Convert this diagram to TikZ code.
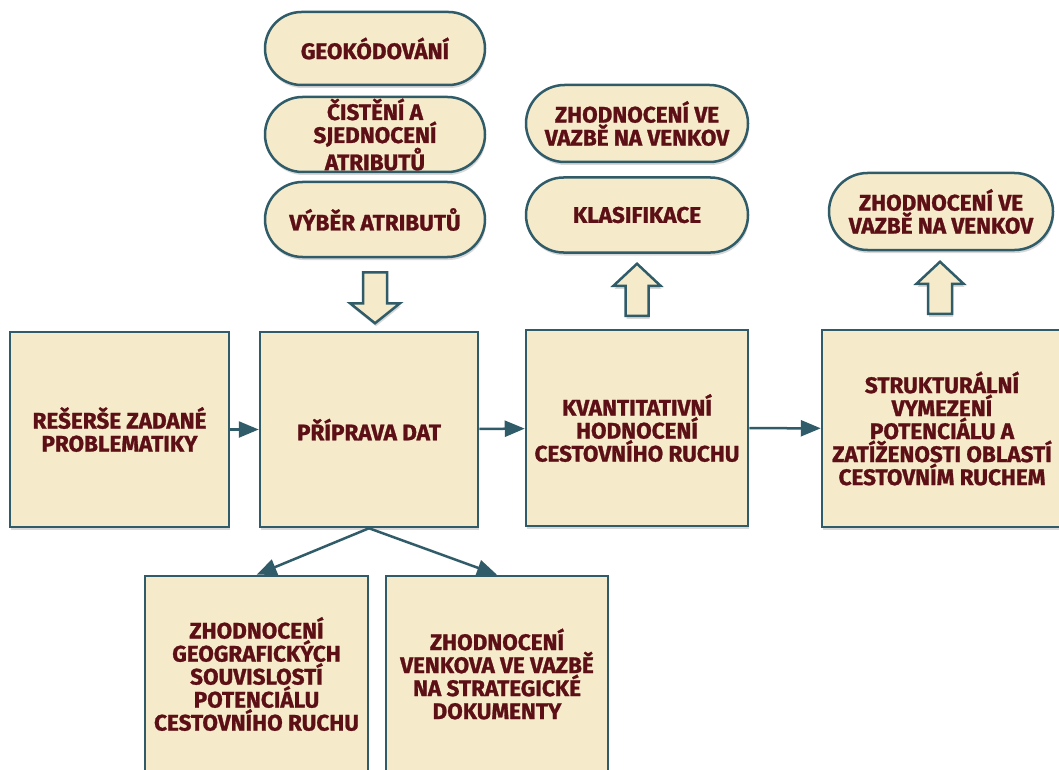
\documentclass[tikz,border=0pt]{standalone}
\usepackage{fontspec}
\setmainfont{Fira Sans}[BoldFeatures={FakeBold=1.2}]
\usetikzlibrary{arrows.meta,shadows,calc,shapes.misc}
\definecolor{fillc}{RGB}{245,234,202}
\definecolor{linec}{RGB}{47,92,104}
\definecolor{textc}{RGB}{92,16,22}
\begin{document}
\begin{tikzpicture}[x=1pt,y=-1pt,
  base/.style={draw=linec, line width=2.5pt, fill=fillc, text=textc,
    font=\fontsize{22.5}{23}\selectfont\bfseries, align=center, inner sep=0pt,
    drop shadow={opacity=0.3, shadow xshift=1pt, shadow yshift=-3pt}},
  box/.style={base, rectangle, minimum height=195pt},
  pill/.style={base, rounded rectangle, minimum height=75pt},
  conn/.style={draw=linec, line width=2.5pt, -{Triangle[length=20pt,width=16pt]}},
  barrow/.style={draw=linec, line width=2.5pt, fill=fillc, line join=miter,
    drop shadow={opacity=0.3, shadow xshift=1pt, shadow yshift=-3pt}}
]
\useasboundingbox (0,0) rectangle (1059,770);
\clip (0,0) rectangle (1059,770);
\fill[white] (0,0) rectangle (1059,770);

% pills
\node[pill, minimum width=220pt, minimum height=73pt] (geo) at (375,48.5) {GEOKÓDOVÁNÍ};
\node[pill, minimum width=220pt] (cist) at (375,134.5) {ČISTĚNÍ A\\SJEDNOCENÍ\\ATRIBUTŮ};
\node[pill, minimum width=220pt] (vyber) at (375,219.5) {VÝBĚR ATRIBUTŮ};
\node[pill, minimum width=222pt, minimum height=77pt] (zh1) at (637,123.5) {ZHODNOCENÍ VE\\VAZBĚ NA VENKOV};
\node[pill, minimum width=222pt] (klas) at (637,215) {KLASIFIKACE};
\node[pill, minimum width=224pt, minimum height=77pt] (zh2) at (941,211.5) {ZHODNOCENÍ VE\\VAZBĚ NA VENKOV};

% boxes
\node[box, minimum width=219pt] (b1) at (119.5,429.5) {REŠERŠE ZADANÉ\\PROBLEMATIKY};
\node[box, minimum width=218pt] (b2) at (369,429.5) {PŘÍPRAVA DAT};
\node[box, minimum width=222pt, minimum height=196pt] (b3) at (637,428) {KVANTITATIVNÍ\\HODNOCENÍ\\CESTOVNÍHO RUCHU};
\node[box, minimum width=240pt, minimum height=197pt] (b4) at (942,428.5) {STRUKTURÁLNÍ\\VYMEZENÍ\\POTENCIÁLU A\\ZATÍŽENOSTI OBLASTÍ\\CESTOVNÍM RUCHEM};
\node[box, minimum width=223pt, minimum height=196pt] (b5) at (256.5,674) {ZHODNOCENÍ\\GEOGRAFICKÝCH\\SOUVISLOSTÍ\\POTENCIÁLU\\CESTOVNÍHO RUCHU};
\node[box, minimum width=222pt, minimum height=196pt] (b6) at (497,674) {ZHODNOCENÍ\\VENKOVA VE VAZBĚ\\NA STRATEGICKÉ\\DOKUMENTY};

% connectors
\draw[conn] (b1) -- (b2);
\draw[conn] (b2) -- (b3);
\draw[conn] (b3) -- (b4);
\draw[conn] (b2.south) -- (b5.north);
\draw[conn] (b2.south) -- (b6.north);

% block arrows
\draw[barrow] ($(vyber.south)+(-12,14)$) -- ++(0,31) -- ++(-13,0)
  -- ($(vyber.south)+(0,65)$) -- ($(vyber.south)+(25,45)$) -- ++(-13,0) -- ++(0,-31) -- cycle;
\draw[barrow] ($(b3.north)+(-11.5,-13)$) -- ++(0,-30) -- ++(-12,0)
  -- ($(b3.north)+(0,-65)$) -- ($(b3.north)+(23.5,-43)$) -- ++(-12,0) -- ++(0,30) -- cycle;
\draw[barrow] ($(b4.north)+(-14,-15)$) -- ++(0,-30) -- ++(-11.5,0)
  -- ($(b4.north)+(-2,-67)$) -- ($(b4.north)+(21.5,-45)$) -- ++(-11.5,0) -- ++(0,30) -- cycle;
\end{tikzpicture}
\end{document}
